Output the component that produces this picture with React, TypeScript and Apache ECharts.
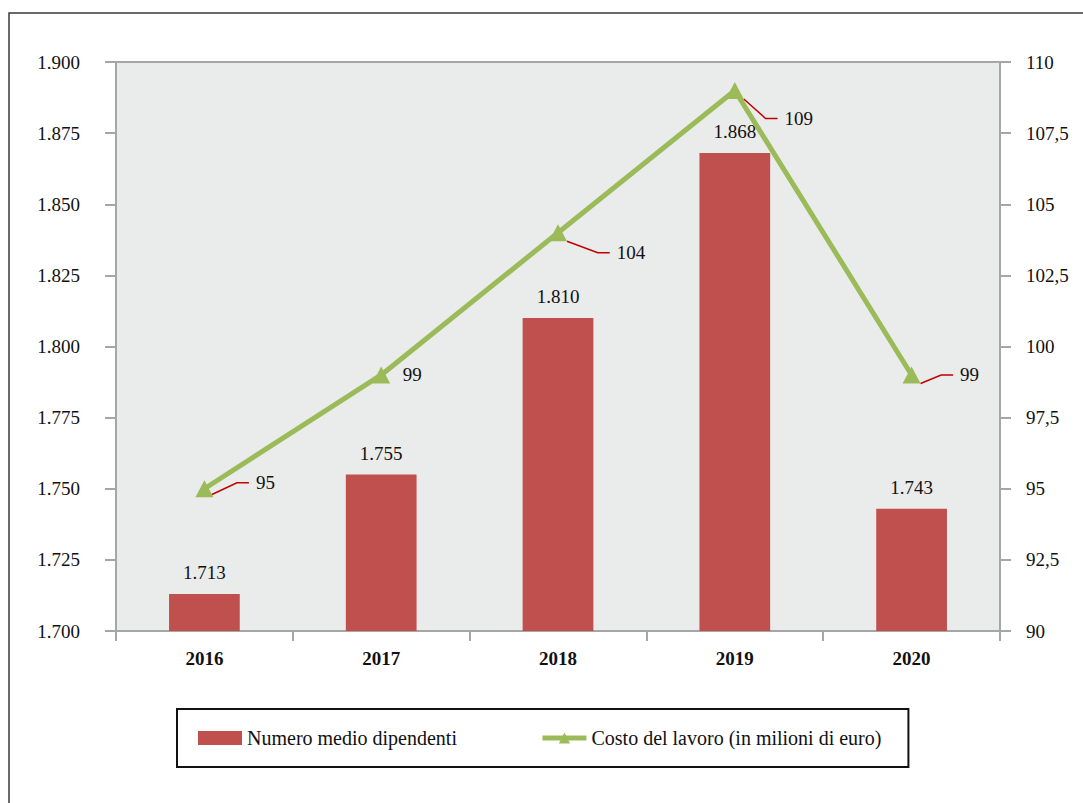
import React, { useEffect, useRef } from "react";
import * as echarts from "echarts";

const years = ["2016", "2017", "2018", "2019", "2020"];
const dipendenti = [1713, 1755, 1810, 1868, 1743];
const costo = [95, 99, 104, 109, 99];
const costLabelDx = [61, 31, 73, 64, 58];
const costLabelDy = [-6, 0, 20, 28, 0];
const costLeader = [true, false, true, true, true];

const FONT = '"Liberation Serif", "DejaVu Serif", serif';
const AXIS = "#a6a6a6";

const fmtThousands = (v: number) => {
  const s = String(Math.round(v));
  return s.replace(/\B(?=(\d{3})+(?!\d))/g, ".");
};
const fmtDecimal = (v: number) => String(v).replace(".", ",");

export default function App() {
  const ref = useRef<HTMLDivElement>(null);
  useEffect(() => {
    if (!ref.current) return;
    const chart = echarts.init(ref.current, null, { renderer: "svg" });
    chart.setOption({
      animation: false,
      textStyle: { fontFamily: FONT, color: "#111" },
      graphic: [
        {
          type: "rect",
          shape: { x: 9, y: 13, width: 1300, height: 1000 },
          style: { fill: "none", stroke: "#3a3a3a", lineWidth: 1.5 },
          silent: true,
        },
      ],
      grid: {
        left: 116,
        right: 83,
        top: 62,
        bottom: 172,
        show: true,
        backgroundColor: "#eaebeb",
        borderColor: AXIS,
        borderWidth: 2,
      },
      legend: {
        left: 177,
        top: 709,
        orient: "horizontal",
        padding: [19, 27, 19, 21],
        borderColor: "#111",
        borderWidth: 2,
        itemWidth: 44,
        itemHeight: 14,
        itemGap: 83,
        textStyle: { fontFamily: FONT, fontSize: 20, color: "#111" },
        data: [
          { name: "Numero medio dipendenti", icon: "rect" },
          {
            name: "Costo del lavoro (in milioni di euro)",
            lineStyle: { width: 5, color: "#9bbb59" },
            itemStyle: { color: "#9bbb59" },
          },
        ],
      },
      xAxis: {
        type: "category",
        data: years,
        axisLine: { show: true, lineStyle: { color: AXIS, width: 2 } },
        axisTick: { show: true, length: 10, lineStyle: { color: AXIS, width: 2 } },
        axisLabel: {
          margin: 18,
          fontFamily: FONT,
          fontSize: 19,
          fontWeight: "bold",
          color: "#111",
        },
      },
      yAxis: [
        {
          type: "value",
          min: 1700,
          max: 1900,
          interval: 25,
          position: "left",
          axisLine: { show: true, lineStyle: { color: AXIS, width: 2 } },
          axisTick: { show: true, length: 11, lineStyle: { color: AXIS, width: 2 } },
          splitLine: { show: false },
          axisLabel: {
            margin: 36,
            fontFamily: FONT,
            fontSize: 19,
            color: "#111",
            formatter: (v: number) => fmtThousands(v),
          },
        },
        {
          type: "value",
          min: 90,
          max: 110,
          interval: 2.5,
          position: "right",
          axisLine: { show: true, lineStyle: { color: AXIS, width: 2 } },
          axisTick: { show: true, length: 11, lineStyle: { color: AXIS, width: 2 } },
          splitLine: { show: false },
          axisLabel: {
            margin: 26,
            fontFamily: FONT,
            fontSize: 19,
            color: "#111",
            formatter: (v: number) => fmtDecimal(v),
          },
        },
      ],
      series: [
        {
          name: "Numero medio dipendenti",
          type: "bar",
          yAxisIndex: 0,
          data: dipendenti,
          barWidth: "40%",
          itemStyle: { color: "#c0504d" },
          label: {
            show: true,
            position: "top",
            distance: 12,
            fontFamily: FONT,
            fontSize: 19,
            color: "#111",
            formatter: (p: any) => fmtThousands(p.value),
          },
        },
        {
          name: "Costo del lavoro (in milioni di euro)",
          type: "line",
          yAxisIndex: 1,
          data: costo.map((v, i) => ({
            value: v,
            labelLine: { show: costLeader[i] },
          })),
          z: 5,
          symbol: "triangle",
          symbolSize: [18, 17],
          showSymbol: true,
          itemStyle: { color: "#9bbb59" },
          lineStyle: { color: "#9bbb59", width: 5 },
          label: {
            show: true,
            position: "inside",
            fontFamily: FONT,
            fontSize: 19,
            color: "#111",
            padding: [0, 7, 0, 7],
            backgroundColor: "rgba(0,0,0,0)",
          },
          labelLine: {
            show: true,
            showAbove: true,
            length2: 12,
            lineStyle: { color: "#c00000", width: 1.5 },
          },
          labelLayout: (params: any) => {
            const i = params.dataIndex;
            const r = params.rect;
            return {
              x: r.x + r.width / 2 + costLabelDx[i],
              y: r.y + r.height / 2 + costLabelDy[i],
              align: "center",
              verticalAlign: "middle",
            };
          },
        },
      ],
    });
    return () => chart.dispose();
  }, []);
  return (
    <div
      ref={ref}
      style={{ position: "fixed", left: 0, top: 0, width: 1083, height: 803, background: "#fff" }}
    />
  );
}
